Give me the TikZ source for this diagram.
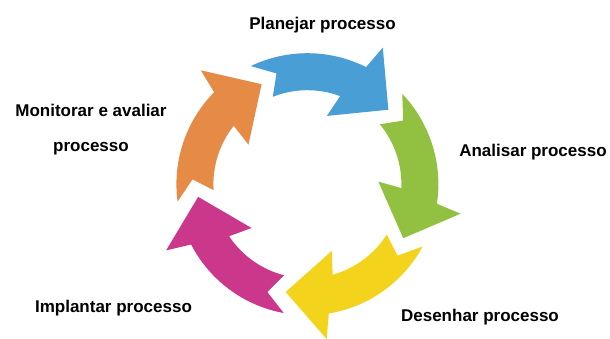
\documentclass[tikz,border=0pt]{standalone}
\usepackage{tikz}
\usetikzlibrary{calc}
\usepackage{fontspec}
\setmainfont{Liberation Sans}
\definecolor{azul}{RGB}{74,158,214}
\definecolor{verde}{RGB}{146,192,64}
\definecolor{amarelo}{RGB}{244,211,28}
\definecolor{rosa}{RGB}{203,55,138}
\definecolor{laranja}{RGB}{229,139,69}
\tikzset{rotulo/.style={font=\fontsize{17}{20}\selectfont\bfseries,anchor=base,inner sep=0pt}}

\begin{document}
\begin{tikzpicture}[x=1pt,y=1pt]
	\useasboundingbox (0,0) rectangle (610,-338);
	\coordinate (C) at (307.4,-184.2);
	% setas do ciclo
	\foreach \a/\cor in {42.6/azul,-29.4/verde,-101.4/amarelo,-173.4/rosa,-245.4/laranja}{
		\fill[\cor,shift={(C)}] (\a+73:131) arc[start angle=\a+73,end angle=\a+20.8,radius=131]
		-- (\a+18.5:156) -- (\a:110) -- (\a+31.5:71) -- (\a+27:94)
		arc[start angle=\a+27,end angle=\a+69,radius=94] -- (\a+63:115) -- cycle;
	}
	\node[rotulo] (planejar) at (322.5,-29.5) {Planejar processo};
	\node[rotulo] (analisar) at (533,-156) {Analisar processo};
	\node[rotulo] (desenhar) at (480,-321.7) {Desenhar processo};
	\node[rotulo] (implantar) at (113.5,-312.7) {Implantar processo};
	\node[rotulo,anchor=center,align=center,font=\fontsize{17}{35}\selectfont\bfseries] (monitorar) at (91,-129.8) {Monitorar e avaliar\\processo};
\end{tikzpicture}
\end{document}
